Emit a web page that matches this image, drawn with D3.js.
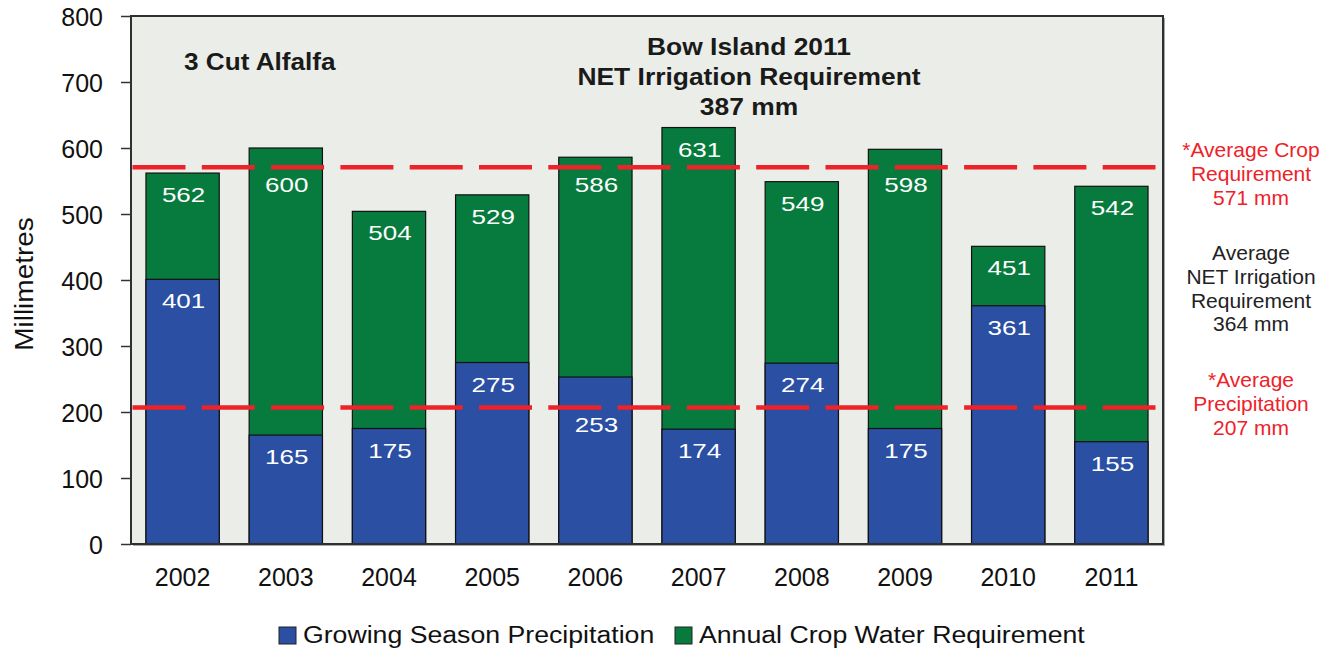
<!DOCTYPE html>
<html>
<head>
<meta charset="utf-8">
<script src="https://cdn.jsdelivr.net/npm/d3@7"></script>
<style>
  html, body { margin: 0; padding: 0; background: #ffffff; }
  svg { display: block; font-family: "Liberation Sans", Arial, Helvetica, sans-serif; }
</style>
</head>
<body>
<svg id="chart" width="1335" height="651"></svg>
<script>
// Bow Island — 3 cut alfalfa, millimetres per season
const years = ["2002", "2003", "2004", "2005", "2006", "2007", "2008", "2009", "2010", "2011"];
const precipitation = [401, 165, 175, 275, 253, 174, 274, 175, 361, 155];
const cropWater = [562, 600, 504, 529, 586, 631, 549, 598, 451, 542];
const yTicks = [0, 100, 200, 300, 400, 500, 600, 700, 800];
const avgCrop = 571;
const avgPrecip = 207;
const avgNet = 364;
const netIrrigation2011 = 387;

const seriesNames = ["Growing Season Precipitation", "Annual Crop Water Requirement"];
const colors = { precip: "#2a4fa3", crop: "#077b3d", red: "#ee2229" };

const svg = d3.select("#chart");

const plot = { left: 131, right: 1163, top: 16, bottom: 544 };

const x = d3.scaleBand()
  .domain(years)
  .range([plot.left, plot.right])
  .paddingInner(0.29)
  .paddingOuter(0.145);

const y = d3.scaleLinear()
  .domain([0, 800])
  .range([plot.bottom, plot.top]);

// plot background with drop shadow
svg.append("rect")
  .attr("x", plot.left + 2).attr("y", plot.top + 2)
  .attr("width", plot.right - plot.left).attr("height", plot.bottom - plot.top)
  .attr("fill", "#a8a8a8");
svg.append("rect")
  .attr("x", plot.left).attr("y", plot.top)
  .attr("width", plot.right - plot.left).attr("height", plot.bottom - plot.top)
  .attr("fill", "#ebede8");

// crop water requirement bars (full height), precipitation overlaid from zero
const bars = svg.append("g");
bars.selectAll("rect.crop")
  .data(years)
  .join("rect")
  .attr("class", "crop")
  .attr("x", d => x(d))
  .attr("width", x.bandwidth())
  .attr("y", (d, i) => y(cropWater[i]))
  .attr("height", (d, i) => y(0) - y(cropWater[i]))
  .attr("fill", colors.crop)
  .attr("stroke", "#111")
  .attr("stroke-width", 1.2);

bars.selectAll("rect.precip")
  .data(years)
  .join("rect")
  .attr("class", "precip")
  .attr("x", d => x(d))
  .attr("width", x.bandwidth())
  .attr("y", (d, i) => y(precipitation[i]))
  .attr("height", (d, i) => y(0) - y(precipitation[i]))
  .attr("fill", colors.precip)
  .attr("stroke", "#111")
  .attr("stroke-width", 1.2);

// value labels inside bars; a label that would sit on an average line drops below it
const avgLines = [avgCrop, avgPrecip];
function labelBaseline(v) {
  let base = y(v) + 29;
  avgLines.forEach(a => {
    const ly = y(a);
    if (ly > base - 22 && ly < base + 4) base = ly + 25;
  });
  return base;
}
function barLabel(values, cls) {
  svg.append("g").selectAll("text." + cls)
    .data(years)
    .join("text")
    .attr("class", cls)
    .attr("transform", (d, i) => `translate(${x(d) + x.bandwidth() / 2 + 1},${labelBaseline(values[i])}) scale(1.3,1)`)
    .attr("text-anchor", "middle")
    .attr("font-size", 20)
    .attr("fill", "#ffffff")
    .text((d, i) => values[i]);
}
barLabel(cropWater, "crop-label");
barLabel(precipitation, "precip-label");

// average reference lines
svg.append("g").selectAll("line.avg")
  .data(avgLines)
  .join("line")
  .attr("class", "avg")
  .attr("x1", plot.left + 1.5)
  .attr("x2", plot.right - 7.5)
  .attr("y1", d => y(d))
  .attr("y2", d => y(d))
  .attr("stroke", colors.red)
  .attr("stroke-width", 4.5)
  .attr("stroke-dasharray", "53,16.3");

// plot frame
svg.append("rect")
  .attr("x", plot.left).attr("y", plot.top)
  .attr("width", plot.right - plot.left).attr("height", plot.bottom - plot.top)
  .attr("fill", "none")
  .attr("stroke", "#2f2f2f")
  .attr("stroke-width", 2);

// y axis
const yAxis = d3.axisLeft(y)
  .tickValues(yTicks)
  .tickSize(10)
  .tickPadding(18)
  .tickFormat(d3.format("d"));
const yg = svg.append("g")
  .attr("transform", `translate(${plot.left},0)`)
  .call(yAxis);
yg.select(".domain").remove();
yg.selectAll(".tick line").attr("stroke", "#333").attr("stroke-width", 1.5);
yg.selectAll(".tick text")
  .attr("font-size", 25)
  .attr("font-family", "Liberation Sans, Arial, sans-serif")
  .attr("fill", "#111")
  .attr("dy", "0.36em");

// x axis labels
const xAxis = d3.axisBottom(x).tickSize(0).tickPadding(24);
const xg = svg.append("g")
  .attr("transform", `translate(0,${plot.bottom})`)
  .call(xAxis);
xg.select(".domain").remove();
xg.selectAll(".tick text")
  .attr("font-size", 25)
  .attr("font-family", "Liberation Sans, Arial, sans-serif")
  .attr("fill", "#111");

// y axis title
svg.append("text")
  .attr("transform", `translate(33,${(plot.top + plot.bottom) / 2 + 4}) rotate(-90) scale(1.12,1)`)
  .attr("text-anchor", "middle")
  .attr("font-size", 25)
  .attr("fill", "#111")
  .text("Millimetres");

// in-plot titles
svg.append("text")
  .attr("transform", "translate(184,70) scale(1.09,1)")
  .attr("font-size", 24)
  .attr("font-weight", "bold")
  .attr("fill", "#1a1a1a")
  .text("3 Cut Alfalfa");

const titleLines = ["Bow Island 2011", "NET Irrigation Requirement", `${netIrrigation2011} mm`];
svg.append("g").selectAll("text")
  .data(titleLines)
  .join("text")
  .attr("transform", (d, i) => `translate(749,${55 + i * 30}) scale(1.1,1)`)
  .attr("text-anchor", "middle")
  .attr("font-size", 24)
  .attr("font-weight", "bold")
  .attr("fill", "#1a1a1a")
  .text(d => d);

// right-hand annotations
const notes = [
  { lines: ["*Average Crop", "Requirement", `${avgCrop} mm`], top: 157, color: colors.red },
  { lines: ["Average", "NET Irrigation", "Requirement", `${avgNet} mm`], top: 260, color: "#222" },
  { lines: ["*Average", "Precipitation", `${avgPrecip} mm`], top: 387, color: colors.red }
];
notes.forEach(n => {
  svg.append("g").selectAll("text")
    .data(n.lines)
    .join("text")
    .attr("x", 1251)
    .attr("y", (d, i) => n.top + i * 23.8)
    .attr("text-anchor", "middle")
    .attr("font-size", 21)
    .attr("fill", n.color)
    .text(d => d);
});

// legend
const legendItems = [
  { name: seriesNames[0], color: colors.precip, x: 279 },
  { name: seriesNames[1], color: colors.crop, x: 675 }
];
const lg = svg.append("g");
legendItems.forEach(it => {
  lg.append("rect")
    .attr("x", it.x).attr("y", 627)
    .attr("width", 17).attr("height", 17)
    .attr("fill", it.color)
    .attr("stroke", "#222")
    .attr("stroke-width", 1);
  lg.append("text")
    .attr("transform", `translate(${it.x + 24},643) scale(1.16,1)`)
    .attr("font-size", 23)
    .attr("fill", "#111")
    .text(it.name);
});
</script>
</body>
</html>
